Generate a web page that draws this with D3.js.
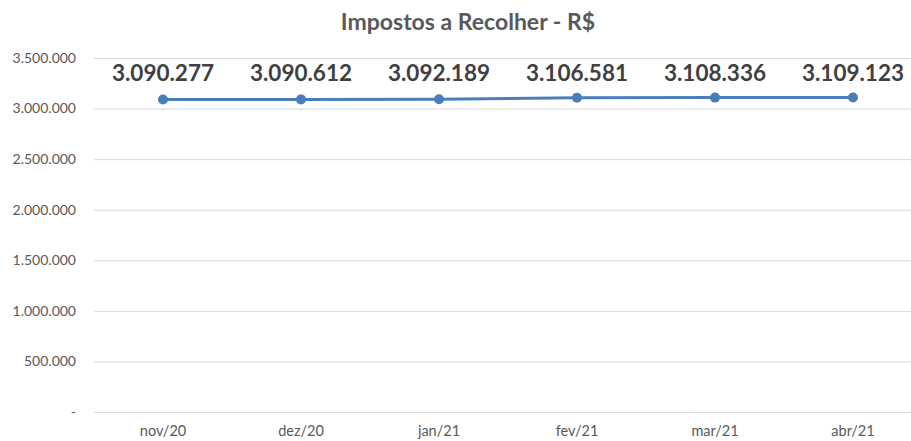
<!DOCTYPE html>
<html>
<head>
<meta charset="utf-8">
<script src="https://cdn.jsdelivr.net/npm/d3@7"></script>
<style>
  body { margin: 0; background: #fff; }
  svg text { font-family: Lato, "Open Sans", sans-serif; }
</style>
</head>
<body>
<script>
// Dados do gráfico
var meses   = ['nov/20', 'dez/20', 'jan/21', 'fev/21', 'mar/21', 'abr/21'];
var valores = [3090277, 3090612, 3092189, 3106581, 3108336, 3109123];
var yTicks  = [0, 500000, 1000000, 1500000, 2000000, 2500000, 3000000, 3500000];

var WIDTH  = 911;
var HEIGHT = 441;

var svg = d3.select('body')
            .append('svg')
            .attr('width', WIDTH)
            .attr('height', HEIGHT);

// Formato brasileiro: ponto como separador de milhar
var br = d3.formatLocale({ decimal: ',', thousands: '.', grouping: [3], currency: ['R$', ''] });
var fmt = br.format(',d');

var x = d3.scaleBand()
          .domain(meses)
          .range([94, 922]);

var y = d3.scaleLinear()
          .domain([0, 3500000])
          .range([412, 58]);

// Título
svg.append('text')
   .attr('x', 468)
   .attr('y', 30)
   .attr('text-anchor', 'middle')
   .attr('font-size', 23)
   .attr('font-weight', 'bold')
   .attr('fill', '#595959')
   .text('Impostos a Recolher - R$');

// Linhas de grade
svg.append('g')
   .selectAll('line')
   .data(yTicks)
   .enter()
   .append('line')
   .attr('x1', 94)
   .attr('x2', WIDTH)
   .attr('y1', function(d) { return y(d) + 0.5; })
   .attr('y2', function(d) { return y(d) + 0.5; })
   .attr('stroke', '#d9d9d9')
   .attr('stroke-width', 1);

// Eixo Y (só os rótulos)
svg.append('g')
   .selectAll('text')
   .data(yTicks)
   .enter()
   .append('text')
   .attr('x', 76)
   .attr('y', function(d) { return y(d); })
   .attr('dy', '0.35em')
   .attr('text-anchor', 'end')
   .attr('font-size', 14)
   .attr('fill', '#595959')
   .text(function(d) { return d === 0 ? '-' : fmt(d); });

// Eixo X
var xAxis = svg.append('g')
   .attr('transform', 'translate(0,412)')
   .call(d3.axisBottom(x).tickSize(0).tickPadding(14));
xAxis.select('.domain').remove();
xAxis.selectAll('text')
     .attr('font-size', 14.5)
     .attr('fill', '#595959')
     .style('font-family', 'Lato, "Open Sans", sans-serif');

var cx = function(d, i) { return x(meses[i]) + x.bandwidth() / 2; };

// Linha
var line = d3.line()
             .x(function(d, i) { return cx(d, i); })
             .y(function(d) { return y(d); });

svg.append('path')
   .datum(valores)
   .attr('d', line)
   .attr('fill', 'none')
   .attr('stroke', '#4a7ebb')
   .attr('stroke-width', 3)
   .attr('stroke-linejoin', 'round');

// Marcadores
svg.append('g')
   .selectAll('circle')
   .data(valores)
   .enter()
   .append('circle')
   .attr('cx', cx)
   .attr('cy', function(d) { return y(d); })
   .attr('r', 5)
   .attr('fill', '#4a7ebb');

// Rótulos de dados
svg.append('g')
   .selectAll('text')
   .data(valores)
   .enter()
   .append('text')
   .attr('x', cx)
   .attr('y', 81)
   .attr('text-anchor', 'middle')
   .attr('font-size', 22.5)
   .attr('font-weight', 'bold')
   .attr('fill', '#404040')
   .text(function(d) { return fmt(d); });
</script>
</body>
</html>
